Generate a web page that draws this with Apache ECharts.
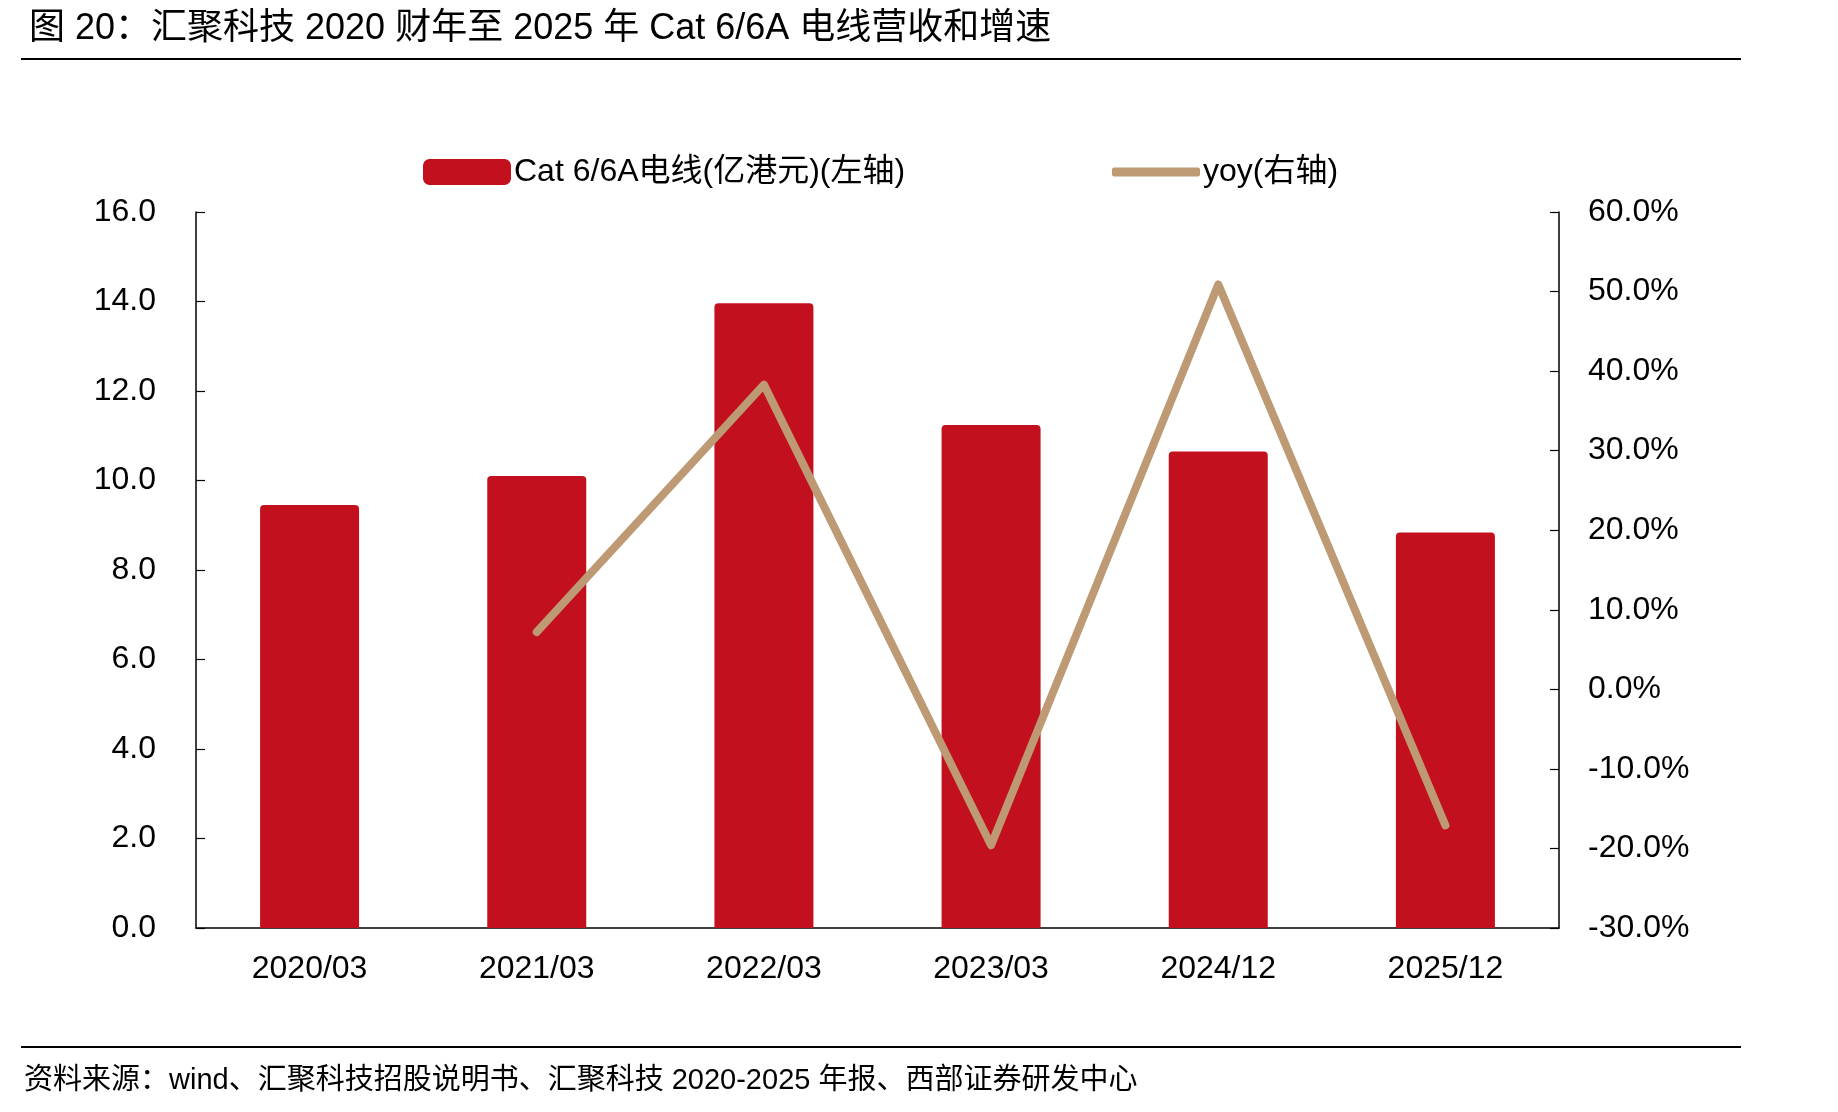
<!DOCTYPE html>
<html>
<head>
<meta charset="utf-8">
<title>汇聚科技 Cat 6/6A 电线营收和增速</title>
<script src="https://cdn.jsdelivr.net/npm/echarts@6/dist/echarts.min.js"></script>
<style>
  html, body { margin: 0; padding: 0; background: #fff; }
  #main { width: 1838px; height: 1112px; }
</style>
</head>
<body>
<div id="main"></div>
<script>
// 数据
var categories = ['2020/03', '2021/03', '2022/03', '2023/03', '2024/12', '2025/12'];
var revenue = [9.45, 10.1, 13.96, 11.24, 10.65, 8.84];     // 亿港元
var yoy = [null, 7.2, 38.3, -19.6, 50.9, -17.1];           // %

var FONT = "'Liberation Sans', Arial, 'Noto Sans CJK SC', sans-serif";
var RED = '#C3101E';
var TAN = '#BD9A73';

var myChart = echarts.init(document.getElementById('main'));

var option = {
  backgroundColor: '#fff',
  textStyle: { fontFamily: FONT },
  title: {
    text: '图 20：汇聚科技 2020 财年至 2025 年 Cat 6/6A 电线营收和增速',
    left: 24,
    top: 6,
    textStyle: { fontFamily: FONT, fontSize: 36, fontWeight: 'normal', color: '#000' }
  },
  graphic: [
    { type: 'line', shape: { x1: 21, y1: 59, x2: 1741, y2: 59 }, style: { stroke: '#000', lineWidth: 2 } },
    { type: 'line', shape: { x1: 21, y1: 1047, x2: 1741, y2: 1047 }, style: { stroke: '#000', lineWidth: 2 } },
    {
      type: 'text', left: 24, top: 1066,
      style: {
        text: '资料来源：wind、汇聚科技招股说明书、汇聚科技 2020-2025 年报、西部证券研发中心',
        font: '29px ' + FONT, fill: '#000'
      }
    }
  ],
  legend: [
    {
      data: ['Cat 6/6A电线(亿港元)(左轴)'],
      left: 418, top: 151,
      itemWidth: 88, itemHeight: 26, itemGap: 6,
      icon: 'roundRect',
      textStyle: { fontFamily: FONT, fontSize: 32, color: '#000', padding: [0, 0, 0, -2] }
    },
    {
      data: ['yoy(右轴)'],
      left: 1107, top: 151,
      itemWidth: 88, itemHeight: 9,
      icon: 'roundRect',
      textStyle: { fontFamily: FONT, fontSize: 32, color: '#000', padding: [0, 0, 0, -2] }
    }
  ],
  grid: { left: 196, right: 279, top: 212, bottom: 184, containLabel: false },
  xAxis: {
    type: 'category',
    data: categories,
    boundaryGap: true,
    axisLine: { lineStyle: { color: '#000', width: 1.5 } },
    axisTick: { inside: true, length: 9, lineStyle: { color: '#000', width: 1.2 } },
    axisLabel: { color: '#000', fontSize: 32, margin: 25, fontFamily: FONT }
  },
  yAxis: [
    {
      type: 'value',
      min: 0, max: 16, interval: 2,
      axisLine: { show: true, lineStyle: { color: '#000', width: 1.5 } },
      axisTick: { show: true, inside: true, length: 9, lineStyle: { color: '#000', width: 1.2 } },
      splitLine: { show: false },
      axisLabel: {
        color: '#000', fontSize: 32, margin: 40, fontFamily: FONT,
        formatter: function (v) { return v.toFixed(1); }
      }
    },
    {
      type: 'value',
      min: -30, max: 60, interval: 10,
      position: 'right',
      axisLine: { show: true, lineStyle: { color: '#000', width: 1.5 } },
      axisTick: { show: true, inside: true, length: 9, lineStyle: { color: '#000', width: 1.2 } },
      splitLine: { show: false },
      axisLabel: {
        color: '#000', fontSize: 32, margin: 29, fontFamily: FONT,
        formatter: function (v) { return v.toFixed(1) + '%'; }
      }
    }
  ],
  series: [
    {
      name: 'Cat 6/6A电线(亿港元)(左轴)',
      type: 'bar',
      data: revenue,
      barWidth: 99,
      yAxisIndex: 0,
      itemStyle: { color: RED, borderRadius: [4, 4, 0, 0] }
    },
    {
      name: 'yoy(右轴)',
      type: 'line',
      data: yoy,
      yAxisIndex: 1,
      symbol: 'none',
      connectNulls: false,
      lineStyle: { color: TAN, width: 8, cap: 'round', join: 'round' },
      itemStyle: { color: TAN }
    }
  ]
};

myChart.setOption(option);
</script>
</body>
</html>
